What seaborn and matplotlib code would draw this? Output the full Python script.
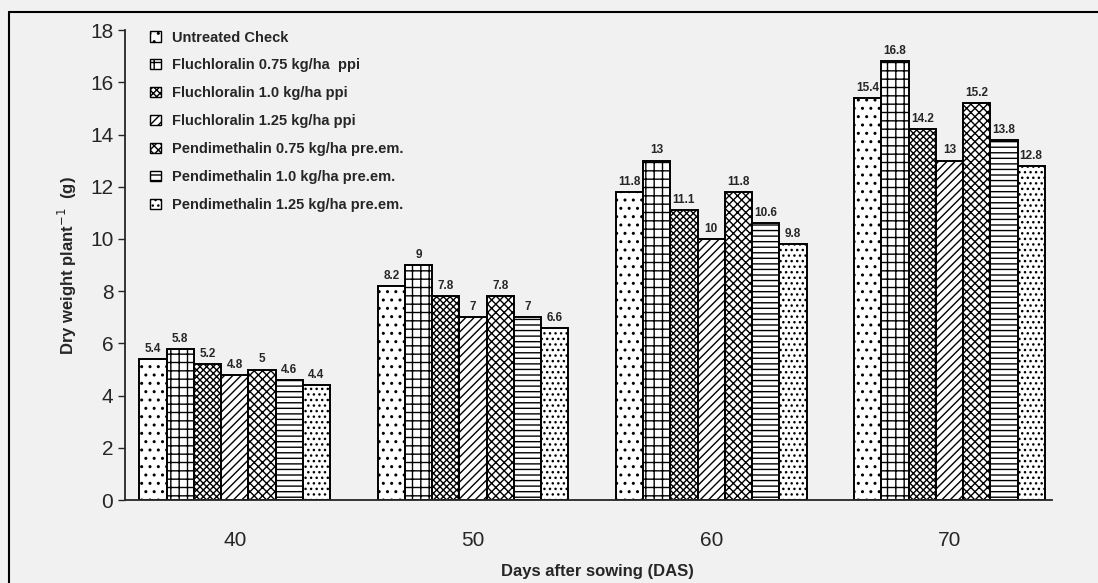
import numpy as np
import pandas as pd
import seaborn as sns
import matplotlib.pyplot as plt
from matplotlib.patches import Patch
from matplotlib.lines import Line2D

# values
days = ["40", "50", "60", "70"]
treatments = [
    "Untreated Check",
    "Fluchloralin 0.75 kg/ha  ppi",
    "Fluchloralin 1.0 kg/ha ppi",
    "Fluchloralin 1.25 kg/ha ppi",
    "Pendimethalin 0.75 kg/ha pre.em.",
    "Pendimethalin 1.0 kg/ha pre.em.",
    "Pendimethalin 1.25 kg/ha pre.em.",
]
untreated = [5.4, 8.2, 11.8, 15.4]
fl_075 = [5.8, 9.0, 13.0, 16.8]
fl_100 = [5.2, 7.8, 11.1, 14.2]
fl_125 = [4.8, 7.0, 10.0, 13.0]
pe_075 = [5.0, 7.8, 11.8, 15.2]
pe_100 = [4.6, 7.0, 10.6, 13.8]
pe_125 = [4.4, 6.6, 9.8, 12.8]
series = [untreated, fl_075, fl_100, fl_125, pe_075, pe_100, pe_125]

hatches = ["..", "++", "xxxxx", "////", "xxxx", "---", "..."]

rows = []
for name, vals in zip(treatments, series):
    for d, v in zip(days, vals):
        rows.append({"DAS": d, "treatment": name, "dry": v})
df = pd.DataFrame(rows)

sns.set_style("ticks")
plt.rcParams["font.family"] = ["Liberation Sans", "DejaVu Sans"]
plt.rcParams["hatch.linewidth"] = 1.0
bg = "#f1f1f1"

fig = plt.figure(figsize=(10.98, 5.83), dpi=100, facecolor=bg)
ax = fig.add_axes([0.114, 0.142, 0.844, 0.8065])
ax.set_facecolor(bg)

sns.barplot(data=df, x="DAS", y="dry", hue="treatment", hue_order=treatments,
            order=days, palette=["white"] * 7, edgecolor="black", linewidth=1.4,
            width=0.8, legend=False, errorbar=None, ax=ax)

for cont, h in zip(ax.containers, hatches):
    for bar in cont:
        bar.set_hatch(h)
        bar.set_facecolor("white")
    ax.bar_label(cont, fmt="%g", padding=3, fontsize=8.5, fontweight="bold")

ax.set_ylim(0, 18)
ax.set_xlim(-0.46, 3.43)
ax.set_yticks(np.arange(0, 19, 2))
ax.tick_params(axis="y", labelsize=15, length=5, width=1)
ax.tick_params(axis="x", labelsize=15, length=0, pad=22)
sns.despine(ax=ax, top=True, right=True)
ax.spines["left"].set_linewidth(1.3)
ax.spines["bottom"].set_linewidth(1.3)
ax.set_xlabel("Days after sowing (DAS)", fontsize=12, fontweight="bold")
ax.set_ylabel(r"Dry weight plant$^{-1}$  (g)", fontsize=12, fontweight="bold", labelpad=8)
ax.xaxis.set_label_coords(0.51, -0.135)

handles = [Patch(facecolor="white", edgecolor="black", hatch=h, linewidth=1) for h in hatches]
ax.legend(handles, treatments, loc="upper left", bbox_to_anchor=(0.125, 0.97),
          bbox_transform=fig.transFigure, frameon=False,
          prop={"weight": "bold", "size": 10.5}, handlelength=0.7, handleheight=0.7,
          labelspacing=0.95, handletextpad=0.8)

# scan frame around the figure
fig.add_artist(Line2D([0.008, 0.008], [0.0, 0.979], color="black", lw=1.5))
fig.add_artist(Line2D([0.008, 1.0], [0.979, 0.979], color="black", lw=1.5))

plt.savefig("out.png", dpi=100, facecolor=bg)
